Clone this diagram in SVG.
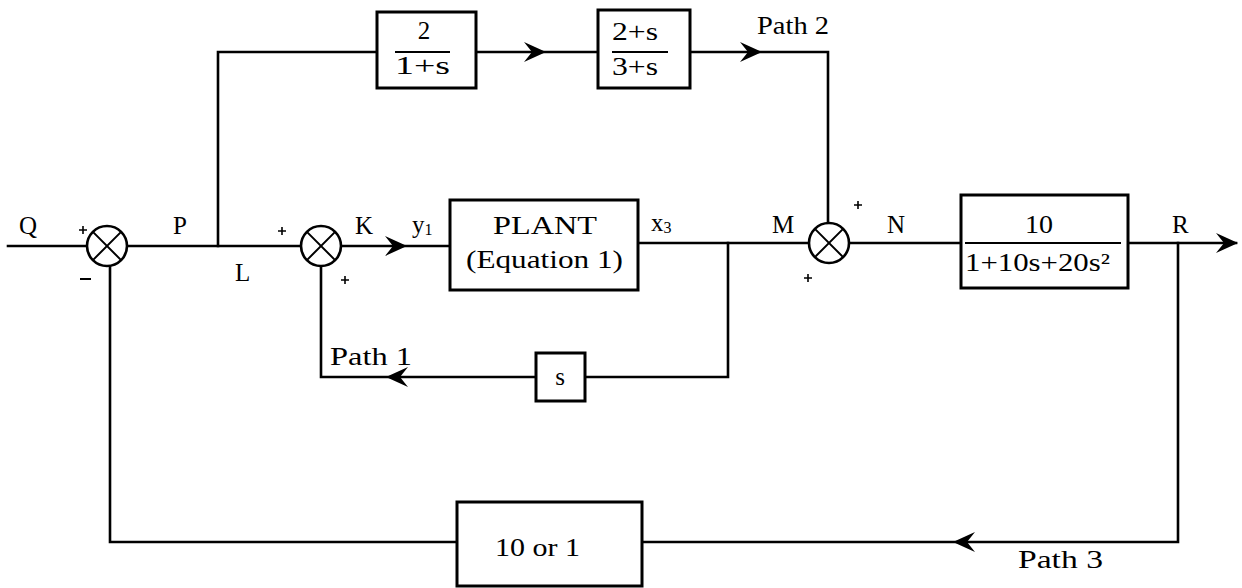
<svg xmlns="http://www.w3.org/2000/svg" width="1242" height="588" viewBox="0 0 1242 588">
<style>
.ln{fill:none;stroke:#000;stroke-width:2.6;stroke-linecap:square}
.box{fill:#fff;stroke:#000;stroke-width:3}
.sum{fill:#fff;stroke:#000;stroke-width:2.6}
.x{stroke:#000;stroke-width:2}
.p{stroke:#000;stroke-width:1.6}
.t{font-family:"Liberation Serif","DejaVu Serif",serif;font-size:25px;fill:#000}
.m{text-anchor:middle}
</style>
<defs>
<path id="ah" d="M0,0 L-22,-10 L-14,0 L-22,10 Z" fill="#000"/>
</defs>
<g id="connectors">
<path class="ln" d="M8,246 H87"/>
<path class="ln" d="M127,246 H301"/>
<path class="ln" d="M218,246 V52 H377"/>
<path class="ln" d="M476,52 H598"/>
<path class="ln" d="M690,52 H828 V223"/>
<path class="ln" d="M341,246 H450"/>
<path class="ln" d="M638,243 H809"/>
<path class="ln" d="M728,243 V377 H585"/>
<path class="ln" d="M536,377 H321 V266"/>
<path class="ln" d="M849,243 H961"/>
<path class="ln" d="M1128,243 H1236"/>
<path class="ln" d="M1178,243 V542 H642"/>
<path class="ln" d="M457,542 H110 V266"/>
<use href="#ah" transform="translate(546,52)"/>
<use href="#ah" transform="translate(762,52)"/>
<use href="#ah" transform="translate(407,246)"/>
<use href="#ah" transform="translate(386,377) rotate(180)"/>
<use href="#ah" transform="translate(1238,243)"/>
<use href="#ah" transform="translate(953,542) rotate(180)"/>
</g>
<g id="sum1">
<circle class="sum" cx="107" cy="246" r="20"/>
<path class="x" d="M92.9,231.9 L121.1,260.1 M121.1,231.9 L92.9,260.1"/>
<path class="p" d="M79,230 H87 M83,226 V234"/>
<path class="x" d="M80,279 H91"/>
</g>
<g id="sum2">
<circle class="sum" cx="321" cy="246" r="20"/>
<path class="x" d="M306.9,231.9 L335.1,260.1 M335.1,231.9 L306.9,260.1"/>
<path class="p" d="M278,231 H286 M282,227 V235"/>
<path class="p" d="M341,280 H349 M345,276 V284"/>
</g>
<g id="sum3">
<circle class="sum" cx="829" cy="243" r="20"/>
<path class="x" d="M814.9,228.9 L843.1,257.1 M843.1,228.9 L814.9,257.1"/>
<path class="p" d="M854,205 H862 M858,201 V209"/>
<path class="p" d="M804,278 H812 M808,274 V282"/>
</g>
<g id="block1">
<rect class="box" x="377" y="12" width="99" height="76"/>
<text class="t m" x="424" y="39">2</text>
<path class="x" d="M395,52 H450"/>
<text class="t" x="395" y="74" textLength="55" lengthAdjust="spacingAndGlyphs">1+s</text>
</g>
<g id="block2">
<rect class="box" x="598" y="10" width="92" height="78"/>
<text class="t" x="612" y="40" textLength="46" lengthAdjust="spacingAndGlyphs">2+s</text>
<path class="x" d="M612,52 H668"/>
<text class="t" x="612" y="75" textLength="46" lengthAdjust="spacingAndGlyphs">3+s</text>
</g>
<g id="plant">
<rect class="box" x="450" y="200" width="188" height="90"/>
<text class="t" x="493" y="234" textLength="104" lengthAdjust="spacingAndGlyphs">PLANT</text>
<text class="t" x="466" y="268" textLength="157" lengthAdjust="spacingAndGlyphs">(Equation 1)</text>
</g>
<g id="block_s">
<rect class="box" x="536" y="353" width="49" height="48"/>
<text class="t m" x="560" y="385">s</text>
</g>
<g id="block4">
<rect class="box" x="961" y="195" width="167" height="93"/>
<text class="t" x="1025" y="233" font-size="27" textLength="28" lengthAdjust="spacingAndGlyphs">10</text>
<path class="x" d="M965,243 H1121"/>
<text class="t" x="965" y="271" textLength="145" lengthAdjust="spacingAndGlyphs">1+10s+20s²</text>
</g>
<g id="block_fb">
<rect class="box" x="457" y="502" width="185" height="84"/>
<text class="t" x="495" y="556" font-size="29" textLength="85" lengthAdjust="spacingAndGlyphs">10 or 1</text>
</g>
<g id="labels">
<text class="t" x="19" y="234">Q</text>
<text class="t" x="173" y="234">P</text>
<text class="t" x="235" y="281">L</text>
<text class="t" x="355" y="234">K</text>
<text class="t" x="412" y="233">y<tspan font-size="16" dy="2">1</tspan></text>
<text class="t" x="651" y="231" font-size="23">x<tspan font-size="16" dy="2">3</tspan></text>
<text class="t" x="772" y="233">M</text>
<text class="t" x="887" y="233">N</text>
<text class="t" x="1172" y="233">R</text>
<text class="t" x="330" y="365" textLength="82" lengthAdjust="spacingAndGlyphs">Path 1</text>
<text class="t" x="757" y="34" textLength="72" lengthAdjust="spacingAndGlyphs">Path 2</text>
<text class="t" x="1018" y="568" font-size="28" textLength="85" lengthAdjust="spacingAndGlyphs">Path 3</text>
</g>
</svg>
